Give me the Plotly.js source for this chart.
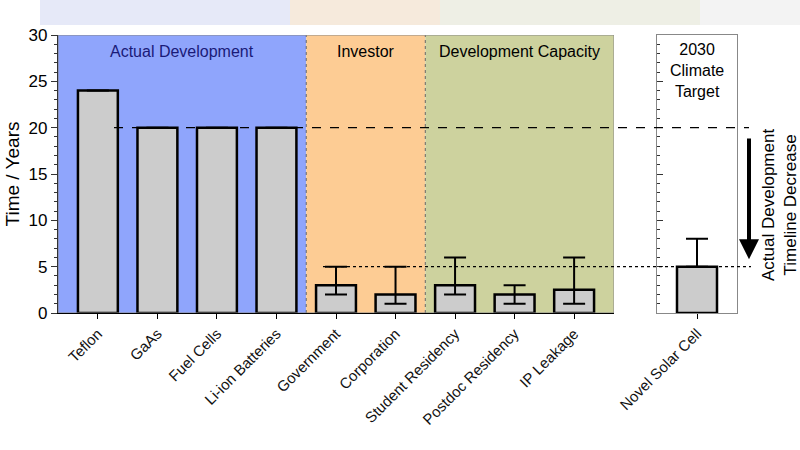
<!DOCTYPE html>
<html>
<head>
<meta charset="utf-8">
<script src="https://cdn.plot.ly/plotly-3.0.1.min.js"></script>
<style>
  html, body { margin: 0; padding: 0; background: #ffffff; }
  #chart { width: 800px; height: 450px; }
</style>
</head>
<body>
<div id="chart"></div>
<script>
// main panel
var categories = ['Teflon', 'GaAs', 'Fuel Cells', 'Li-ion Batteries', 'Government',
                  'Corporation', 'Student Residency', 'Postdoc Residency', 'IP Leakage'];
var years = [24, 20, 20, 20, 3, 2, 3, 2, 2.5];
var errUp = [null, null, null, null, 2, 3, 3, 1, 3.5];
var errDown = [null, null, null, null, 1, 1, 1, 1, 1.5];

// right panel
var targetCategories = ['Novel Solar Cell'];
var targetYears = [5];
var targetErrUp = [3];
var targetErrDown = [0];

var groupNames = ['Actual Development', 'Investor', 'Development Capacity'];
var groupEdges = [-0.67, 3.5, 5.5, 8.67];
var groupColors = ['#8fa5fc', '#fdcc94', '#cdd29e'];

var font = 'Liberation Sans, Arial, sans-serif';
var W = 800, H = 450;
function px(x) { return x / W; }
function py(y) { return 1 - y / H; }

var barStyle = {
  color: '#cccccc',
  line: { color: '#000000', width: 2.5 }
};

var trace1 = {
  x: categories,
  y: years,
  type: 'bar',
  width: 0.67,
  marker: barStyle,
  error_y: {
    type: 'data', symmetric: false,
    array: errUp, arrayminus: errDown,
    color: '#000000', thickness: 2, width: 11
  },
  xaxis: 'x', yaxis: 'y',
  hoverinfo: 'skip'
};

var trace2 = {
  x: targetCategories,
  y: targetYears,
  type: 'bar',
  width: 0.67,
  marker: barStyle,
  error_y: {
    type: 'data', symmetric: false,
    array: targetErrUp, arrayminus: targetErrDown,
    color: '#000000', thickness: 2, width: 11
  },
  xaxis: 'x2', yaxis: 'y2',
  hoverinfo: 'skip'
};

var shapes = [];
// faint blurred band along the top of the screenshot
var bands = [
  [40, 290, '#e6e9f8'], [290, 440, '#f6eadc'],
  [440, 700, '#eeefe5'], [700, 800, '#f3f3f3']
];
bands.forEach(function (b) {
  shapes.push({
    type: 'rect', xref: 'paper', yref: 'paper', layer: 'below',
    x0: px(b[0]), x1: px(b[1]), y0: py(25), y1: 1,
    fillcolor: b[2], line: { width: 0 }
  });
});
for (var i = 0; i < groupNames.length; i++) {
  shapes.push({
    type: 'rect', xref: 'x', yref: 'y', layer: 'below',
    x0: groupEdges[i], x1: groupEdges[i + 1], y0: 0, y1: 30,
    fillcolor: groupColors[i], line: { width: 0 }
  });
}
// dotted separators between groups
[groupEdges[1], groupEdges[2]].forEach(function (e) {
  shapes.push({
    type: 'line', xref: 'x', yref: 'y', layer: 'above',
    x0: e, x1: e, y0: 0, y1: 30,
    line: { color: '#666666', width: 1, dash: 'dot' }
  });
});
// frame of main panel
shapes.push({
  type: 'rect', xref: 'x', yref: 'y', layer: 'above',
  x0: groupEdges[0], x1: groupEdges[3], y0: 0, y1: 30,
  line: { color: '#888888', width: 1 }
});
// reference lines
shapes.push({
  type: 'line', xref: 'paper', yref: 'y', layer: 'above',
  x0: px(114), x1: px(749), y0: 20, y1: 20,
  line: { color: '#000000', width: 1.3, dash: 'dash' }
});
shapes.push({
  type: 'line', xref: 'paper', yref: 'y', layer: 'above',
  x0: px(323), x1: px(751), y0: 5, y1: 5,
  line: { color: '#000000', width: 1.3, dash: 'dot' }
});

var annotations = [
  { text: groupNames[0], x: (groupEdges[0] + groupEdges[1]) / 2, xref: 'x',
    y: py(52), yref: 'paper', yanchor: 'middle', showarrow: false,
    font: { family: font, size: 16, color: '#1a1a78' } },
  { text: groupNames[1], x: (groupEdges[1] + groupEdges[2]) / 2, xref: 'x',
    y: py(52), yref: 'paper', yanchor: 'middle', showarrow: false,
    font: { family: font, size: 16, color: '#000000' } },
  { text: groupNames[2], x: (groupEdges[2] + groupEdges[3]) / 2, xref: 'x',
    y: py(52), yref: 'paper', yanchor: 'middle', showarrow: false,
    font: { family: font, size: 16, color: '#000000' } },
  { text: '2030<br>Climate<br>Target', x: 0, xref: 'x2',
    y: py(70), yref: 'paper', yanchor: 'middle', showarrow: false,
    font: { family: font, size: 16, color: '#000000' } },
  { text: 'Actual Development<br>Timeline Decrease', textangle: -90,
    x: px(780), xref: 'paper', xanchor: 'center',
    y: py(205), yref: 'paper', yanchor: 'middle', showarrow: false,
    font: { family: font, size: 17, color: '#000000' } },
  // arrow
  { text: '', x: px(749), xref: 'paper', y: 5.8, yref: 'y',
    ax: 0, ayref: 'y', ay: 19, showarrow: true,
    arrowhead: 2, arrowsize: 1, arrowwidth: 4, arrowcolor: '#000000' }
];

var tickFont = { family: font, size: 15, color: '#111111' };

var layout = {
  width: W, height: H,
  margin: { l: 0, r: 0, t: 0, b: 0 },
  paper_bgcolor: '#ffffff',
  plot_bgcolor: 'rgba(0,0,0,0)',
  showlegend: false,
  bargap: 0,
  xaxis: {
    domain: [px(58), px(614)],
    range: [-0.67, 8.67],
    showgrid: false, zeroline: false,
    showline: true, linecolor: '#000000', linewidth: 1.2,
    ticks: 'outside', ticklen: 5, tickcolor: '#000000',
    tickangle: -45, tickfont: tickFont,
    automargin: false, fixedrange: true
  },
  yaxis: {
    domain: [py(313), py(35)],
    range: [0, 30],
    tickvals: [0, 5, 10, 15, 20, 25, 30],
    minor: { dtick: 1, ticks: 'outside', ticklen: 3, tickcolor: '#333333' },
    showgrid: false, zeroline: false,
    showline: true, linecolor: '#333333', linewidth: 1.2,
    ticks: 'outside', ticklen: 6, tickcolor: '#333333',
    tickfont: { family: font, size: 17, color: '#000000' },
    title: { text: 'Time / Years', standoff: 3,
             font: { family: font, size: 19, color: '#000000' } },
    automargin: false, fixedrange: true
  },
  xaxis2: {
    domain: [px(657), px(737)],
    range: [-0.67, 0.67],
    anchor: 'y2',
    showgrid: false, zeroline: false,
    showline: true, mirror: true, linecolor: '#888888', linewidth: 1.2,
    ticks: 'outside', ticklen: 5, tickcolor: '#000000',
    tickangle: -45, tickfont: tickFont,
    automargin: false, fixedrange: true
  },
  yaxis2: {
    domain: [py(313), py(35)],
    range: [0, 30],
    anchor: 'x2',
    tickvals: [0, 5, 10, 15, 20, 25, 30],
    minor: { dtick: 1, ticks: 'inside', ticklen: 3, tickcolor: '#333333' },
    showticklabels: false,
    showgrid: false, zeroline: false,
    showline: true, mirror: true, linecolor: '#888888', linewidth: 1.2,
    ticks: 'inside', ticklen: 6, tickcolor: '#333333',
    automargin: false, fixedrange: true
  },
  shapes: shapes,
  annotations: annotations
};

Plotly.newPlot('chart', [trace1, trace2], layout, { displayModeBar: false, staticPlot: true });
</script>
</body>
</html>
